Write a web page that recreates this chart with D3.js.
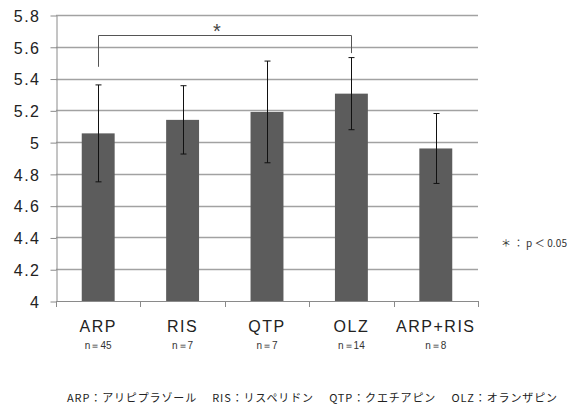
<!DOCTYPE html>
<html>
<head>
<meta charset="utf-8">
<script src="https://cdn.jsdelivr.net/npm/d3@7"></script>
<style>
  html, body { margin: 0; padding: 0; background: #fff; }
  svg { display: block; }
</style>
</head>
<body>
<svg id="chart" width="585" height="410"></svg>
<script>
// Group names, sample sizes, means and error half-widths
const categories = ["ARP", "RIS", "QTP", "OLZ", "ARP+RIS"];
const sampleSizes = ["n＝45", "n＝7", "n＝7", "n＝14", "n＝8"];
const means = [5.055, 5.14, 5.19, 5.305, 4.96];
const errors = [0.305, 0.215, 0.32, 0.227, 0.22];
const yTicks = [4, 4.2, 4.4, 4.6, 4.8, 5, 5.2, 5.4, 5.6, 5.8];
const significantPair = ["ARP", "OLZ"];
const significanceMark = "*";
const legendText = "＊ ： p ＜ 0.05";
const footnote = "ARP：アリピプラゾール　 RIS：リスペリドン　 QTP：クエチアピン　 OLZ：オランザピン";

const svg = d3.select("#chart");
const latin = "'Liberation Sans', Arial, sans-serif";
const cjk = "'Noto Sans CJK JP', 'Liberation Sans', sans-serif";

const plot = { left: 56, right: 478, top: 15, bottom: 301 };

const x = d3.scaleBand()
  .domain(categories)
  .range([plot.left, plot.right])
  .paddingInner(0.61)
  .paddingOuter(0.305);

const y = d3.scaleLinear()
  .domain([4, 5.8])
  .range([plot.bottom, plot.top]);

// horizontal gridlines
svg.append("g")
  .selectAll("line")
  .data(yTicks.slice(1))
  .join("line")
  .attr("x1", plot.left)
  .attr("x2", plot.right)
  .attr("y1", d => Math.round(y(d)) + 0.5)
  .attr("y2", d => Math.round(y(d)) + 0.5)
  .attr("stroke", "#a2a2a2")
  .attr("stroke-width", 1.3);

// y axis
const yAxis = svg.append("g")
  .attr("transform", `translate(${plot.left + 0.5},0.5)`)
  .call(d3.axisLeft(y).tickValues(yTicks).tickSize(6).tickSizeOuter(0)
    .tickFormat(d => d3.format("")(+d.toFixed(1))));
yAxis.select(".domain").attr("stroke", "#8a8a8a");
yAxis.selectAll(".tick line").attr("stroke", "#8a8a8a");
yAxis.selectAll(".tick text")
  .attr("x", -16)
  .attr("dy", "0.36em")
  .attr("fill", "#222")
  .style("font-family", latin)
  .style("font-size", "16px")
  .style("letter-spacing", "1.5px");

// bars
svg.append("g")
  .selectAll("rect")
  .data(categories)
  .join("rect")
  .attr("x", d => x(d))
  .attr("width", x.bandwidth())
  .attr("y", (d, i) => y(means[i]))
  .attr("height", (d, i) => y(4) - y(means[i]))
  .attr("fill", "#5c5c5c");

// x axis with ticks at group boundaries
const step = x.step();
const boundaries = d3.range(categories.length + 1).map(i => plot.left + i * step);
const xg = svg.append("g");
xg.append("line")
  .attr("x1", plot.left).attr("x2", plot.right)
  .attr("y1", plot.bottom + 0.5).attr("y2", plot.bottom + 0.5)
  .attr("stroke", "#8a8a8a");
xg.selectAll("line.tk")
  .data(boundaries)
  .join("line")
  .attr("class", "tk")
  .attr("x1", d => Math.round(d) + 0.5).attr("x2", d => Math.round(d) + 0.5)
  .attr("y1", plot.bottom).attr("y2", plot.bottom + 6)
  .attr("stroke", "#8a8a8a");

// error bars
const eb = svg.append("g").attr("stroke", "#111").attr("stroke-width", 1);
categories.forEach((c, i) => {
  const cx = Math.round(x(c) + x.bandwidth() / 2) + 0.5;
  const hi = y(means[i] + errors[i]);
  const lo = y(means[i] - errors[i]);
  eb.append("line").attr("x1", cx).attr("x2", cx).attr("y1", hi).attr("y2", lo);
  eb.append("line").attr("x1", cx - 3).attr("x2", cx + 3).attr("y1", hi).attr("y2", hi);
  eb.append("line").attr("x1", cx - 3).attr("x2", cx + 3).attr("y1", lo).attr("y2", lo);
});

// category labels and sample sizes
svg.append("g")
  .selectAll("text")
  .data(categories)
  .join("text")
  .attr("x", d => x(d) + x.bandwidth() / 2)
  .attr("y", 332)
  .attr("text-anchor", "middle")
  .attr("fill", "#222")
  .style("font-family", latin)
  .style("font-size", "16px")
  .style("letter-spacing", "1.5px")
  .text(d => d);

svg.append("g")
  .selectAll("text")
  .data(categories)
  .join("text")
  .attr("x", d => x(d) + x.bandwidth() / 2)
  .attr("y", 349)
  .attr("text-anchor", "middle")
  .attr("fill", "#333")
  .style("font-family", latin)
  .style("font-size", "10px")
  .text((d, i) => sampleSizes[i]);

// significance bracket between the two compared groups
const [ga, gb] = significantPair;
const xa = Math.round(x(ga) + x.bandwidth() / 2) + 0.5;
const xb = Math.round(x(gb) + x.bandwidth() / 2) + 0.5;
const bracketTop = y(5.673), leftEnd = y(5.474), rightEnd = y(5.56);
svg.append("path")
  .attr("d", `M${xa},${leftEnd}V${Math.round(bracketTop) + 0.5}H${xb}V${rightEnd}`)
  .attr("fill", "none")
  .attr("stroke", "#555")
  .attr("stroke-width", 1);
svg.append("text")
  .attr("x", 217)
  .attr("y", 38)
  .attr("text-anchor", "middle")
  .attr("fill", "#444")
  .style("font-family", latin)
  .style("font-size", "20px")
  .text(significanceMark);

// significance legend
svg.append("text")
  .attr("x", 501)
  .attr("y", 247)
  .attr("fill", "#333")
  .attr("textLength", 66)
  .attr("lengthAdjust", "spacing")
  .style("font-family", cjk)
  .style("font-size", "10px")
  .text(legendText);

// abbreviation footnote
svg.append("text")
  .attr("x", 67)
  .attr("y", 402)
  .attr("fill", "#222")
  .attr("textLength", 490)
  .attr("lengthAdjust", "spacing")
  .style("font-family", cjk)
  .style("font-size", "11px")
  .text(footnote);
</script>
</body>
</html>
